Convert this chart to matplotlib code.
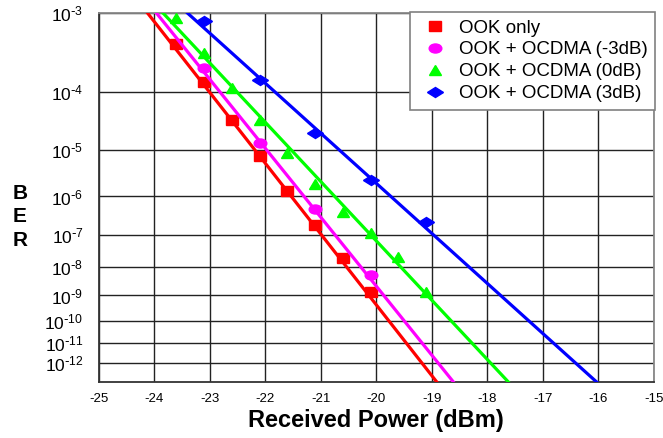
import math
import numpy as np
import matplotlib
matplotlib.use("Agg")
import matplotlib.pyplot as plt
from matplotlib.ticker import FixedLocator, FuncFormatter
from matplotlib.markers import MarkerStyle
from matplotlib.transforms import Affine2D

plt.rcParams['font.family'] = ['Liberation Sans', 'DejaVu Sans']

# measured points (received power in dBm, BER)
ook_x = [-23.6, -23.1, -22.6, -22.1, -21.6, -21.1, -20.6, -20.1]
ook_ber = [4.4e-4, 1.4e-4, 3.5e-5, 7.7e-6, 1.33e-6, 1.9e-7, 2.0e-8, 1.4e-9]

m3_x = [-23.1, -22.1, -21.1, -20.1]
m3_ber = [2.2e-4, 1.4e-5, 4.8e-7, 5.3e-9]

z0_x = [-23.6, -23.1, -22.6, -22.1, -21.6, -21.1, -20.6, -20.1, -19.6, -19.1]
z0_ber = [8.8e-4, 3.4e-4, 1.13e-4, 3.5e-5, 8.7e-6, 2.0e-6, 4.2e-7, 1.1e-7, 2.1e-8, 1.4e-9]

p3_x = [-23.1, -22.1, -21.1, -20.1, -19.1]
p3_ber = [8.2e-4, 1.5e-4, 2.15e-5, 2.4e-6, 2.25e-7]

# fitted lines: power where each fit crosses BER 1e-3 and 1e-13
fit_ber = [1e-3, 1e-13]
ook_fit = [-24.12, -18.91]
m3_fit = [-23.96, -18.61]
z0_fit = [-23.84, -17.62]
p3_fit = [-23.40, -16.03]

labels = ["OOK only", "OOK + OCDMA (-3dB)", "OOK + OCDMA (0dB)", "OOK + OCDMA (3dB)"]
colors = ["#ff0000", "#ff00ff", "#00ff00", "#0000ff"]
markers = ["s", "o", "^", "D"]

x_ticks = list(range(-25, -14))
ber_ticks = [10.0 ** -n for n in range(3, 13)]

_erfc = np.vectorize(math.erfc, otypes=[float])


def ber_to_q(ber):
    ber = np.clip(np.asarray(ber, dtype=float), 1e-30, 0.4999)
    lo = np.zeros_like(ber)
    hi = np.full_like(ber, 12.0)
    for _ in range(50):
        mid = 0.5 * (lo + hi)
        val = 0.5 * _erfc(mid / math.sqrt(2))
        big = val > ber
        lo = np.where(big, mid, lo)
        hi = np.where(big, hi, mid)
    return 0.5 * (lo + hi)


def forward(ber):
    return -np.log10(ber_to_q(ber))


def inverse(v):
    q = 10.0 ** (-np.asarray(v, dtype=float))
    return 0.5 * _erfc(q / math.sqrt(2))


fig = plt.figure(figsize=(6.63, 4.38), dpi=100)
ax = fig.add_axes([0.149, 0.128, 0.837, 0.842])
ax.set_yscale("function", functions=(forward, inverse))

series = [(ook_x, ook_ber, ook_fit), (m3_x, m3_ber, m3_fit),
          (z0_x, z0_ber, z0_fit), (p3_x, p3_ber, p3_fit)]
for (xs, bers, fit), lab, c, m in zip(series, labels, colors, markers):
    # markers in the original look stretched sideways
    mk = MarkerStyle(m, transform=Affine2D().scale(1.4, 1.0))
    ms = 6.5 if m != "D" else 5.5
    ax.plot(xs, bers, linestyle="none", marker=mk, color=c, markersize=ms,
            label=lab, zorder=3)
    ax.plot(fit, fit_ber, color=c, lw=2.3, zorder=4)

ax.set_xlim(-25, -15)
ax.set_ylim(1e-13, 1e-3)
ax.xaxis.set_major_locator(FixedLocator(x_ticks))
ax.yaxis.set_major_locator(FixedLocator(ber_ticks))
ax.yaxis.set_minor_locator(FixedLocator([]))
ax.yaxis.set_major_formatter(FuncFormatter(
    lambda v, p: r"$\mathregular{10^{\text{-}%d}}$" % round(-math.log10(v))))
ax.xaxis.set_major_formatter(FuncFormatter(lambda v, p: "%d" % v))
ax.tick_params(axis="y", length=0, labelsize=12.5, pad=11)
ax.tick_params(axis="x", length=0, labelsize=9.5, pad=8)
ax.grid(True, color="#222222", lw=1.0)
for side in ["left", "bottom"]:
    ax.spines[side].set_color("#333333")
    ax.spines[side].set_linewidth(1.3)
for side in ["top", "right"]:
    ax.spines[side].set_color("#888888")
    ax.spines[side].set_linewidth(1.3)

ax.set_xlabel("Received Power (dBm)", fontsize=17, fontweight="bold", labelpad=3)
fig.text(0.030, 0.505, "B\nE\nR", fontsize=15, fontweight="bold",
         ha="center", va="center", linespacing=1.3)

leg = ax.legend(loc="upper right", fontsize=13.5, handletextpad=0.3,
                handlelength=1.9, borderpad=0.4, labelspacing=0.25,
                borderaxespad=0.0, fancybox=False, framealpha=1,
                edgecolor="#808080", bbox_to_anchor=(1.002, 1.003))
leg.get_frame().set_linewidth(1.2)

fig.savefig("out.png", dpi=100)
